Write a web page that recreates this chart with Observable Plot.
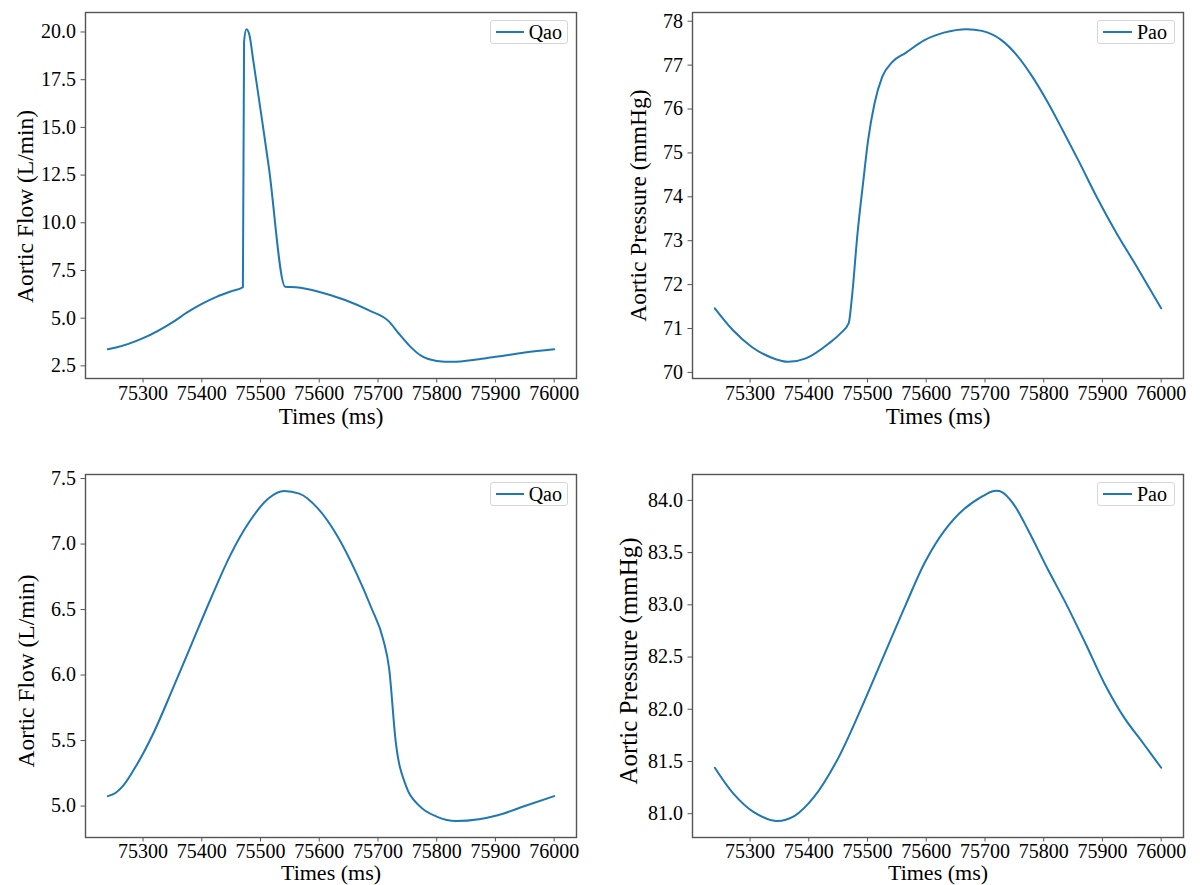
<!DOCTYPE html>
<html>
<head>
<meta charset="utf-8">
<script src="https://cdn.jsdelivr.net/npm/d3@7"></script>
<script src="https://cdn.jsdelivr.net/npm/@observablehq/plot@0.6"></script>
<style>
  html, body { margin: 0; padding: 0; background: #fff; }
  #root { position: relative; width: 1200px; height: 885px; overflow: hidden; font-family: "Liberation Serif", "Times New Roman", serif; }
  .panel { position: absolute; }
  .legend { position: absolute; box-sizing: border-box; border: 1px solid #d6d6d6; border-radius: 3px; background: rgba(255,255,255,0.85);
            font-family: "Liberation Serif", "Times New Roman", serif; font-size: 20px; color: #000; display: flex; align-items: center; padding: 0 5px; }
  .legend .swatch { display: inline-block; width: 29px; height: 2px; margin-right: 5px; }
</style>
</head>
<body>
<div id="root"></div>
<script>
// ---------- data ----------
// Top-left: aortic flow
const timesQ1 = [75240, 75254, 75300, 75352, 75375, 75400, 75425, 75449, 75470, 75472, 75476, 75481, 75488, 75503, 75514, 75542, 75560, 75599, 75644, 75683, 75719, 75735, 75755, 75774, 75800, 75826, 75872, 75904, 75950, 76000];
const flowQ1  = [3.37, 3.46, 3.95, 4.82, 5.30, 5.75, 6.12, 6.40, 6.62, 19.5, 20.15, 19.85, 18.43, 15.3, 12.95, 6.65, 6.62, 6.39, 5.95, 5.43, 4.82, 4.21, 3.51, 3.02, 2.76, 2.71, 2.85, 2.99, 3.20, 3.37];

// Top-right: aortic pressure
const timesP1 = [75240, 75271, 75303, 75336, 75365, 75395, 75434, 75454, 75468, 75473, 75483, 75493, 75501, 75512, 75525, 75542, 75565, 75597, 75630, 75669, 75695, 75728, 75754, 75780, 75807, 75833, 75859, 75892, 75924, 75957, 76000];
const presP1  = [71.46, 70.96, 70.58, 70.34, 70.24, 70.32, 70.66, 70.89, 71.12, 71.65, 73.17, 74.38, 75.29, 76.13, 76.73, 77.07, 77.28, 77.57, 77.74, 77.82, 77.78, 77.57, 77.23, 76.75, 76.15, 75.50, 74.83, 73.95, 73.17, 72.44, 71.46];

// Bottom-left: aortic flow
const timesQ2 = [75240, 75253, 75267, 75286, 75318, 75351, 75383, 75416, 75448, 75481, 75514, 75540, 75566, 75598, 75631, 75663, 75689, 75709, 75719, 75730, 75748, 75771, 75800, 75833, 75872, 75904, 75950, 76000];
const flowQ2  = [5.076, 5.10, 5.16, 5.29, 5.56, 5.90, 6.24, 6.59, 6.91, 7.17, 7.35, 7.405, 7.385, 7.27, 7.06, 6.78, 6.51, 6.27, 6.05, 5.50, 5.15, 5.00, 4.92, 4.886, 4.90, 4.93, 5.00, 5.076];

// Bottom-right: aortic pressure
const timesP2 = [75240, 75272, 75305, 75344, 75376, 75409, 75448, 75487, 75526, 75565, 75598, 75631, 75663, 75696, 75715, 75729, 75748, 75774, 75807, 75839, 75872, 75904, 75937, 75970, 76000];
const presP2  = [81.44, 81.19, 81.02, 80.93, 80.98, 81.16, 81.51, 81.98, 82.49, 83.00, 83.41, 83.71, 83.91, 84.04, 84.09, 84.08, 83.97, 83.71, 83.34, 83.00, 82.62, 82.24, 81.92, 81.67, 81.44];

// tick labels
const timeTicks   = [75300, 75400, 75500, 75600, 75700, 75800, 75900, 76000];
const flowTicks1  = [2.5, 5.0, 7.5, 10.0, 12.5, 15.0, 17.5, 20.0];
const presTicks1  = [70, 71, 72, 73, 74, 75, 76, 77, 78];
const flowTicks2  = [5.0, 5.5, 6.0, 6.5, 7.0, 7.5];
const presTicks2  = [81.0, 81.5, 82.0, 82.5, 83.0, 83.5, 84.0];

const xLabel = "Times (ms)";
const flowLabel = "Aortic Flow (L/min)";
const presLabel = "Aortic Pressure (mmHg)";
const seriesQ = "Qao";
const seriesP = "Pao";

// ---------- drawing ----------
const LINE = "#1f77b4";
const AXIS = "#555";
const FONT = '"Liberation Serif", "Times New Roman", serif';

function padded(arr) {
  const [a, b] = d3.extent(arr);
  const r = b - a;
  return [a - 0.05 * r, b + 0.05 * r];
}

const root = document.getElementById("root");

function panel(o) {
  const data = o.times.map((t, i) => ({t, v: o.values[i]}));
  const svg = Plot.plot({
    width: 600,
    height: 440,
    marginLeft: o.ml, marginRight: o.mr, marginTop: o.mt, marginBottom: o.mb,
    style: {fontFamily: FONT, fontSize: "20px", background: "transparent", color: "#000", overflow: "visible"},
    x: {domain: padded(o.times), label: null},
    y: {domain: padded(o.values), label: null},
    marks: [
      Plot.line(data, {x: "t", y: "v", stroke: LINE, strokeWidth: 2, curve: o.curve}),
      Plot.frame({stroke: AXIS, strokeWidth: 1.4}),
      Plot.axisX({ticks: timeTicks, tickFormat: d3.format("d"), tickSize: 4.5, tickPadding: o.xpad, fontSize: 20, stroke: AXIS, fill: "#000", label: null}),
      Plot.axisY({ticks: o.yTicks, tickFormat: d3.format(o.yFmt), tickSize: 4.5, tickPadding: 5, fontSize: 20, stroke: AXIS, fill: "#000", label: null}),
      Plot.text([xLabel], {text: d => d, frameAnchor: "bottom", lineAnchor: "middle", textAnchor: "middle", dy: o.xdy, fontSize: o.xfs, fill: "#000"}),
      Plot.text([o.yLabel], {text: d => d, frameAnchor: "left", lineAnchor: "middle", textAnchor: "middle", rotate: -90, dx: o.ydx, dy: o.ydy, fontSize: o.yfs, fill: "#000"})
    ]
  });
  svg.classList.add("panel");
  svg.style.left = o.left + "px";
  svg.style.top = o.top + "px";
  root.appendChild(svg);

  // legend (upper right, inside the axes)
  const lg = document.createElement("div");
  lg.className = "legend";
  const sw = document.createElement("span");
  sw.className = "swatch";
  sw.style.background = LINE;
  lg.appendChild(sw);
  lg.appendChild(document.createTextNode(o.series));
  lg.style.width = "78px";
  lg.style.height = "24px";
  lg.style.left = (o.left + 600 - o.mr - 8 - 78) + "px";
  lg.style.top = (o.top + o.mt + 8) + "px";
  root.appendChild(lg);
}

panel({times: timesQ1, values: flowQ1, yTicks: flowTicks1, yFmt: ".1f", yLabel: flowLabel, series: seriesQ, curve: "monotone-x",
       left: 0, top: 0, ml: 85, mr: 24, mt: 12, mb: 62, xpad: 3, xdy: 38, xfs: 23, ydx: -60, ydy: 11, yfs: 23.5});
panel({times: timesP1, values: presP1, yTicks: presTicks1, yFmt: "d", yLabel: presLabel, series: seriesP, curve: "monotone-x",
       left: 600, top: 0, ml: 92, mr: 17, mt: 12, mb: 62, xpad: 3, xdy: 38, xfs: 23, ydx: -54, ydy: 10, yfs: 23.5});
panel({times: timesQ2, values: flowQ2, yTicks: flowTicks2, yFmt: ".1f", yLabel: flowLabel, series: seriesQ, curve: "monotone-x",
       left: 0, top: 445, ml: 85, mr: 24, mt: 29, mb: 48, xpad: 2, xdy: 35.5, xfs: 22, ydx: -59, ydy: 15, yfs: 23.5});
panel({times: timesP2, values: presP2, yTicks: presTicks2, yFmt: ".1f", yLabel: presLabel, series: seriesP, curve: "catmull-rom",
       left: 600, top: 445, ml: 92, mr: 17, mt: 29, mb: 48, xpad: 2, xdy: 35.5, xfs: 22, ydx: -64, ydy: 5, yfs: 25});
</script>
</body>
</html>
